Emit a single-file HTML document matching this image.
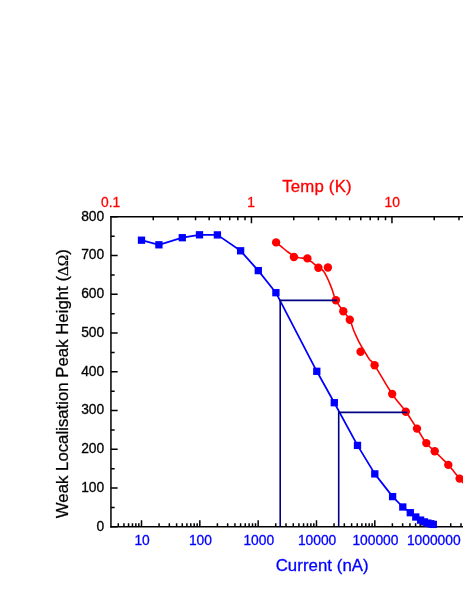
<!DOCTYPE html>
<html><head><meta charset="utf-8"><title>Chart</title>
<style>html,body{margin:0;padding:0;background:#fff;font-family:"Liberation Sans",sans-serif;}</style>
</head><body>
<svg width="463" height="599" viewBox="0 0 463 599" style="display:block;will-change:transform">
<g stroke="#000" stroke-width="1.5" fill="none" stroke-linecap="butt">
<path d="M110.95 527.55 V216.05"/>
<path d="M110.2 216.8 H463"/>
<path d="M110.2 526.8 H463"/>
<path d="M110.95 526.80 h6.7 M110.95 507.42 h3.7 M110.95 488.05 h6.7 M110.95 468.67 h3.7 M110.95 449.30 h6.7 M110.95 429.92 h3.7 M110.95 410.55 h6.7 M110.95 391.17 h3.7 M110.95 371.80 h6.7 M110.95 352.42 h3.7 M110.95 333.05 h6.7 M110.95 313.67 h3.7 M110.95 294.30 h6.7 M110.95 274.92 h3.7 M110.95 255.55 h6.7 M110.95 236.18 h3.7 M110.95 216.80 h6.7 "/>
<path d="M118.29 526.8 v-3.5 M123.94 526.8 v-3.5 M128.56 526.8 v-3.5 M132.46 526.8 v-3.5 M135.85 526.8 v-3.5 M138.83 526.8 v-3.5 M141.50 526.8 v-6.5 M159.06 526.8 v-3.5 M169.33 526.8 v-3.5 M176.62 526.8 v-3.5 M182.27 526.8 v-3.5 M186.89 526.8 v-3.5 M190.79 526.8 v-3.5 M194.18 526.8 v-3.5 M197.16 526.8 v-3.5 M199.83 526.8 v-6.5 M217.39 526.8 v-3.5 M227.66 526.8 v-3.5 M234.95 526.8 v-3.5 M240.60 526.8 v-3.5 M245.22 526.8 v-3.5 M249.12 526.8 v-3.5 M252.51 526.8 v-3.5 M255.49 526.8 v-3.5 M258.16 526.8 v-6.5 M275.72 526.8 v-3.5 M285.99 526.8 v-3.5 M293.28 526.8 v-3.5 M298.93 526.8 v-3.5 M303.55 526.8 v-3.5 M307.45 526.8 v-3.5 M310.84 526.8 v-3.5 M313.82 526.8 v-3.5 M316.49 526.8 v-6.5 M334.05 526.8 v-3.5 M344.32 526.8 v-3.5 M351.61 526.8 v-3.5 M357.26 526.8 v-3.5 M361.88 526.8 v-3.5 M365.78 526.8 v-3.5 M369.17 526.8 v-3.5 M372.15 526.8 v-3.5 M374.82 526.8 v-6.5 M392.38 526.8 v-3.5 M402.65 526.8 v-3.5 M409.94 526.8 v-3.5 M415.59 526.8 v-3.5 M420.21 526.8 v-3.5 M424.11 526.8 v-3.5 M427.50 526.8 v-3.5 M430.48 526.8 v-3.5 M433.15 526.8 v-6.5 M450.71 526.8 v-3.5 M460.98 526.8 v-3.5 "/>
<path d="M153.24 216.8 v3.5 M177.99 216.8 v3.5 M195.54 216.8 v3.5 M209.16 216.8 v3.5 M220.28 216.8 v3.5 M229.69 216.8 v3.5 M237.83 216.8 v3.5 M245.02 216.8 v3.5 M251.45 216.8 v6.5 M293.74 216.8 v3.5 M318.49 216.8 v3.5 M336.04 216.8 v3.5 M349.66 216.8 v3.5 M360.78 216.8 v3.5 M370.19 216.8 v3.5 M378.33 216.8 v3.5 M385.52 216.8 v3.5 M391.95 216.8 v6.5 M434.24 216.8 v3.5 M458.99 216.8 v3.5 "/>
</g>
<path d="M276.10 242.40 L277.50 243.52 L279.40 245.09 L281.66 246.96 L284.16 249.00 L286.76 251.06 L289.34 253.01 L291.76 254.70 L293.90 256.00 L295.81 256.86 L297.64 257.41 L299.39 257.73 L301.07 257.93 L302.71 258.08 L304.30 258.28 L305.86 258.62 L307.40 259.20 L308.94 260.04 L310.47 261.05 L311.98 262.19 L313.44 263.39 L314.83 264.60 L316.14 265.74 L317.33 266.76 L318.40 267.60 L319.31 268.23 L320.07 268.68 L320.71 269.02 L321.27 269.29 L321.77 269.56 L322.26 269.89 L322.76 270.31 L323.30 270.90 L323.87 271.63 L324.42 272.45 L324.96 273.35 L325.49 274.31 L326.01 275.32 L326.54 276.38 L327.07 277.48 L327.60 278.60 L328.14 279.77 L328.68 280.99 L329.23 282.27 L329.77 283.58 L330.31 284.92 L330.85 286.28 L331.38 287.64 L331.90 289.00 L332.39 290.36 L332.84 291.75 L333.27 293.15 L333.71 294.56 L334.16 295.97 L334.67 297.39 L335.24 298.80 L335.90 300.20 L336.67 301.61 L337.53 303.04 L338.47 304.48 L339.44 305.92 L340.44 307.33 L341.43 308.71 L342.39 310.04 L343.30 311.30 L344.17 312.47 L345.04 313.55 L345.91 314.56 L346.76 315.55 L347.58 316.54 L348.36 317.55 L349.11 318.63 L349.80 319.80 L350.42 321.06 L350.97 322.39 L351.46 323.77 L351.93 325.18 L352.39 326.62 L352.85 328.06 L353.35 329.49 L353.90 330.90 L354.50 332.31 L355.12 333.73 L355.76 335.17 L356.41 336.60 L357.08 338.02 L357.75 339.42 L358.43 340.78 L359.10 342.10 L359.78 343.38 L360.47 344.63 L361.17 345.86 L361.87 347.06 L362.57 348.24 L363.26 349.38 L363.94 350.51 L364.60 351.60 L365.24 352.67 L365.86 353.71 L366.47 354.73 L367.08 355.73 L367.67 356.69 L368.28 357.62 L368.88 358.53 L369.50 359.40 L370.04 360.07 L370.47 360.47 L370.85 360.75 L371.26 361.04 L371.76 361.50 L372.44 362.27 L373.36 363.48 L374.60 365.30 L376.23 367.87 L378.21 371.13 L380.46 374.88 L382.87 378.91 L385.34 383.04 L387.79 387.06 L390.11 390.78 L392.20 394.00 L394.11 396.74 L395.94 399.22 L397.70 401.48 L399.40 403.59 L401.05 405.60 L402.66 407.59 L404.24 409.60 L405.80 411.70 L407.33 413.87 L408.81 416.04 L410.26 418.20 L411.67 420.35 L413.04 422.47 L414.39 424.56 L415.71 426.61 L417.00 428.60 L418.26 430.57 L419.48 432.54 L420.67 434.49 L421.82 436.39 L422.96 438.23 L424.08 439.97 L425.19 441.61 L426.30 443.10 L427.36 444.39 L428.34 445.47 L429.29 446.40 L430.23 447.26 L431.21 448.11 L432.26 449.02 L433.41 450.06 L434.70 451.30 L436.17 452.74 L437.79 454.32 L439.52 456.00 L441.32 457.76 L443.14 459.56 L444.94 461.37 L446.67 463.16 L448.30 464.90 L449.86 466.65 L451.40 468.47 L452.92 470.31 L454.40 472.14 L455.82 473.92 L457.17 475.62 L458.44 477.19 L459.60 478.60 L460.68 479.88 L461.69 481.07 L462.64 482.16 L463.51 483.16 L464.28 484.04 L464.96 484.82 L465.54 485.47 L466.00 486.00" stroke="#f00" stroke-width="1.6" fill="none" stroke-linejoin="round"/>
<circle cx="276.1" cy="242.4" r="4.2" fill="#f00"/>
<circle cx="293.9" cy="257.0" r="4.2" fill="#f00"/>
<circle cx="307.4" cy="258.4" r="4.2" fill="#f00"/>
<circle cx="318.4" cy="267.8" r="4.2" fill="#f00"/>
<circle cx="327.9" cy="267.5" r="4.2" fill="#f00"/>
<circle cx="335.9" cy="300.2" r="4.2" fill="#f00"/>
<circle cx="343.3" cy="311.3" r="4.2" fill="#f00"/>
<circle cx="349.8" cy="319.8" r="4.2" fill="#f00"/>
<circle cx="360.6" cy="351.8" r="4.2" fill="#f00"/>
<circle cx="374.6" cy="365.3" r="4.2" fill="#f00"/>
<circle cx="392.2" cy="394.0" r="4.2" fill="#f00"/>
<circle cx="405.8" cy="411.7" r="4.2" fill="#f00"/>
<circle cx="417.0" cy="428.6" r="4.2" fill="#f00"/>
<circle cx="426.3" cy="443.1" r="4.2" fill="#f00"/>
<circle cx="434.7" cy="451.3" r="4.2" fill="#f00"/>
<circle cx="448.3" cy="464.9" r="4.2" fill="#f00"/>
<circle cx="459.6" cy="478.6" r="4.2" fill="#f00"/>
<path d="M141.5 240.2 L158.9 244.8 L182.3 237.7 L199.5 234.8 L217.4 234.9 L240.6 250.8 L258.3 270.6 L275.9 292.7 L316.8 371.3 L334.3 402.7 L357.5 445.4 L374.8 473.9 L392.6 496.6 L402.8 507.0 L410.3 512.7 L415.8 517.0 L420.6 520.1 L424.4 521.9 L427.9 523.1 L430.8 523.9 L433.3 524.4" stroke="#00f" stroke-width="1.75" fill="none" stroke-linejoin="round"/>
<rect x="137.85" y="236.55" width="7.3" height="7.3" fill="#00f"/>
<rect x="155.25" y="241.15" width="7.3" height="7.3" fill="#00f"/>
<rect x="178.65" y="234.05" width="7.3" height="7.3" fill="#00f"/>
<rect x="195.85" y="231.15" width="7.3" height="7.3" fill="#00f"/>
<rect x="213.75" y="231.25" width="7.3" height="7.3" fill="#00f"/>
<rect x="236.95" y="247.15" width="7.3" height="7.3" fill="#00f"/>
<rect x="254.65" y="266.95" width="7.3" height="7.3" fill="#00f"/>
<rect x="272.25" y="289.05" width="7.3" height="7.3" fill="#00f"/>
<rect x="313.15" y="367.65" width="7.3" height="7.3" fill="#00f"/>
<rect x="330.65" y="399.05" width="7.3" height="7.3" fill="#00f"/>
<rect x="353.85" y="441.75" width="7.3" height="7.3" fill="#00f"/>
<rect x="371.15" y="470.25" width="7.3" height="7.3" fill="#00f"/>
<rect x="388.95" y="492.95" width="7.3" height="7.3" fill="#00f"/>
<rect x="399.15" y="503.35" width="7.3" height="7.3" fill="#00f"/>
<rect x="406.65" y="509.05" width="7.3" height="7.3" fill="#00f"/>
<rect x="412.15" y="513.35" width="7.3" height="7.3" fill="#00f"/>
<rect x="416.95" y="516.45" width="7.3" height="7.3" fill="#00f"/>
<rect x="420.75" y="518.25" width="7.3" height="7.3" fill="#00f"/>
<rect x="424.25" y="519.45" width="7.3" height="7.3" fill="#00f"/>
<rect x="427.15" y="520.25" width="7.3" height="7.3" fill="#00f"/>
<rect x="429.65" y="520.75" width="7.3" height="7.3" fill="#00f"/>
<g stroke="#000080" stroke-width="1.6" fill="none">
<path d="M280.2 526.0999999999999 V300.4 H337.2"/>
<path d="M338.7 526.0999999999999 V412.4 H407.3"/>
</g>
<g font-family="Liberation Sans, sans-serif" font-size="13.8" fill="#000" stroke="#000" stroke-width="0.3" text-anchor="end">
<text x="104.2" y="530.60">0</text>
<text x="104.2" y="491.85">100</text>
<text x="104.2" y="453.10">200</text>
<text x="104.2" y="414.35">300</text>
<text x="104.2" y="375.60">400</text>
<text x="104.2" y="336.85">500</text>
<text x="104.2" y="298.10">600</text>
<text x="104.2" y="259.35">700</text>
<text x="104.2" y="220.60">800</text>
</g>
<g font-family="Liberation Sans, sans-serif" font-size="13.8" fill="#00f" stroke="#00f" stroke-width="0.3" text-anchor="middle">
<text x="142.10" y="545.3">10</text>
<text x="200.43" y="545.3">100</text>
<text x="258.76" y="545.3">1000</text>
<text x="317.09" y="545.3">10000</text>
<text x="375.42" y="545.3">100000</text>
<text x="433.75" y="545.3">1000000</text>
</g>
<g font-family="Liberation Sans, sans-serif" font-size="13.8" fill="#f00" stroke="#f00" stroke-width="0.3" text-anchor="middle">
<text x="110.65" y="206.8">0.1</text>
<text x="251.15" y="206.8">1</text>
<text x="392.25" y="206.8">10</text>
</g>
<text font-family="Liberation Sans, sans-serif" font-size="16.8" fill="#f00" stroke="#f00" stroke-width="0.3" text-anchor="middle" x="317.0" y="191.6" letter-spacing="0.2">Temp (K)</text>
<text font-family="Liberation Sans, sans-serif" font-size="16.8" fill="#00f" stroke="#00f" stroke-width="0.3" text-anchor="middle" x="322.2" y="570.8" letter-spacing="0.06">Current (nA)</text>
<text font-family="Liberation Sans, sans-serif" font-size="16.8" fill="#000" stroke="#000" stroke-width="0.25" text-anchor="start" transform="translate(67.7 518.2) rotate(-90)">Weak Localisation Peak Height (<tspan font-family="Liberation Serif, serif" font-size="15.3">ΔΩ</tspan>)</text>
</svg>
</body></html>
